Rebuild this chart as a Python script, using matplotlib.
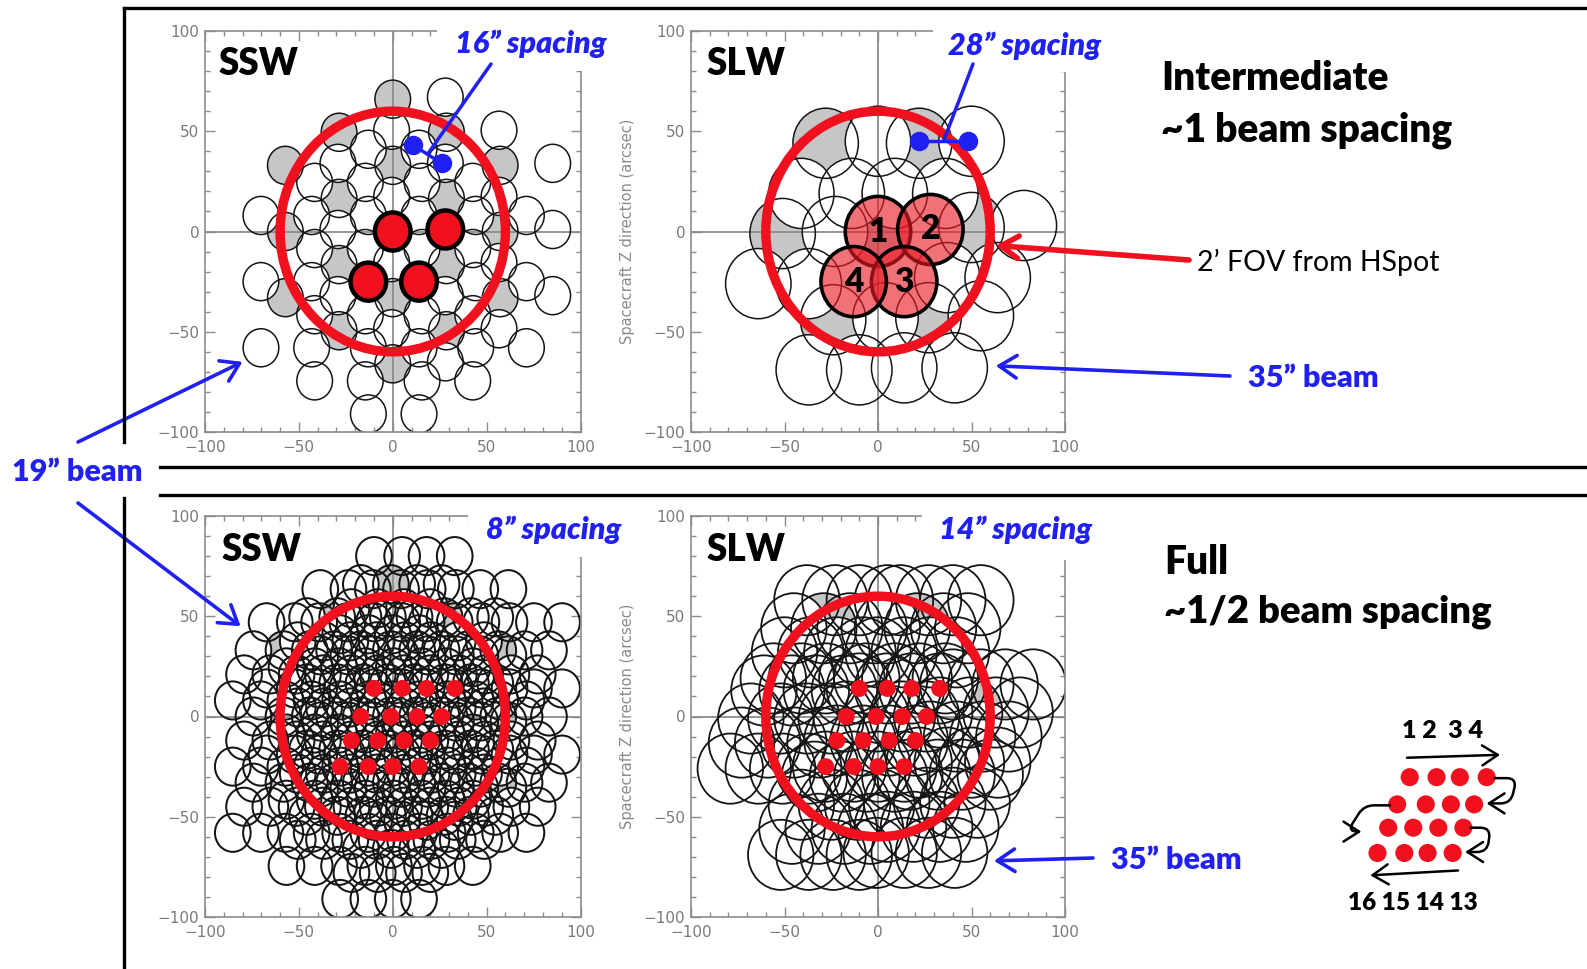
import matplotlib
matplotlib.use('Agg')
import matplotlib.pyplot as plt
from matplotlib.patches import Circle, Rectangle
from matplotlib.lines import Line2D
from matplotlib.ticker import MultipleLocator

W, H = 1587, 969

# detector centres on the sky (arcsec)
SSW_DET_X = [0, 0, 0, 0, 0, -28.6, -28.6, -28.6, -28.6, 28.6, 28.6, 28.6, 28.6,
             -57.2, -57.2, -57.2, 57.2, 57.2, 57.2]
SSW_DET_Y = [-66, -33, 0, 33, 66, -49.5, -16.5, 16.5, 49.5, -49.5, -16.5, 16.5, 49.5,
             -33, 0, 33, -33, 0, 33]
SLW_DET_X = [0, 50, -51, -28, 22, -24, 27]
SLW_DET_Y = [0, 2, -1, 44, 44, -44, -43]

# jiggle offsets: 4 points (intermediate) and 16 points (full, serpentine order)
INTER_DX = [0, 28, 14, -13]
INTER_DY = [0, 1, -25, -25]
INTER_LABELS = ['1', '2', '3', '4']
FULL_DX = [-10, 5, 18, 33, 26, 13, -1, -17, -22, -8, 6, 20, 14, 0, -13, -28]
FULL_DY = [14, 14, 14, 14, 0, 0, 0, 0, -12, -12, -12, -12, -25, -25, -25, -25]

SSW_BEAM = 19.0
SLW_BEAM = 35.0
FOV = 120.0

# pairs of positions marking the jiggle step
SSW_STEP_X = [11, 26]
SSW_STEP_Y = [43, 34]
SLW_STEP_X = [22, 48]
SLW_STEP_Y = [45, 45]

BLUE = '#2020f2'
RED = '#f0101e'
AXGREY = '#8c8c8c'
FONT = ['Lato', 'DejaVu Sans']

fig = plt.figure(figsize=(W / 100, H / 100), dpi=100)


def rect(x0, y0, x1, y1):
    return [x0 / W, 1 - y1 / H, (x1 - x0) / W, (y1 - y0) / H]


def fpix(x, y):
    return (x, H - y)


def panel(box, ylabel=False):
    ax = fig.add_axes(rect(*box))
    ax.set_xlim(-100, 100)
    ax.set_ylim(-100, 100)
    ax.set_xticks([-100, -50, 0, 50, 100])
    ax.set_yticks([-100, -50, 0, 50, 100])
    ax.xaxis.set_minor_locator(MultipleLocator(10))
    ax.yaxis.set_minor_locator(MultipleLocator(10))
    ax.tick_params(which='both', direction='in', top=True, right=True,
                   color=AXGREY, labelcolor='#7a7a7a', labelsize=11, width=1)
    ax.tick_params(which='major', length=7)
    ax.tick_params(which='minor', length=3.5)
    ax.tick_params(axis='x', pad=6)
    ax.tick_params(axis='y', pad=4)
    for s in ax.spines.values():
        s.set_color(AXGREY)
        s.set_linewidth(1.2)
    ax.axhline(0, color=AXGREY, lw=1.3, zorder=1.5)
    ax.axvline(0, color=AXGREY, lw=1.3, zorder=1.5)
    if ylabel:
        ax.set_ylabel('Spacecraft Z direction (arcsec)', color='#8a8a8a',
                      fontsize=10.5, labelpad=6)
    return ax


def beams(ax, det_x, det_y, dx, dy, diam, grey_idx, lw):
    r = diam / 2
    for j in range(len(dx)):
        face = '#c6c6c6' if j == grey_idx else 'white'
        for x0, y0 in zip(det_x, det_y):
            ax.add_patch(Circle((x0 + dx[j], y0 + dy[j]), r, fc=face, ec='none', zorder=1))
    for j in range(len(dx)):
        for x0, y0 in zip(det_x, det_y):
            ax.add_patch(Circle((x0 + dx[j], y0 + dy[j]), r, fill=False,
                                ec='#151515', lw=lw, zorder=2))
    ax.add_patch(Circle((0, 0), FOV / 2, fill=False, ec=RED, lw=6.8, zorder=5))


boxes = {
    'ssw_i': (205, 31, 580.5, 432),
    'slw_i': (691, 31, 1065, 432),
    'ssw_f': (205, 516, 580.5, 917),
    'slw_f': (691, 516, 1065, 917),
}
ax_ssw_i = panel(boxes['ssw_i'])
ax_slw_i = panel(boxes['slw_i'], ylabel=True)
ax_ssw_f = panel(boxes['ssw_f'])
ax_slw_f = panel(boxes['slw_f'], ylabel=True)

beams(ax_ssw_i, SSW_DET_X, SSW_DET_Y, INTER_DX, INTER_DY, SSW_BEAM, 0, 1.1)
beams(ax_slw_i, SLW_DET_X, SLW_DET_Y, INTER_DX, INTER_DY, SLW_BEAM, 0, 1.1)
beams(ax_ssw_f, SSW_DET_X, SSW_DET_Y, FULL_DX, FULL_DY, SSW_BEAM, 6, 1.45)
beams(ax_slw_f, SLW_DET_X, SLW_DET_Y, FULL_DX, FULL_DY, SLW_BEAM, 6, 1.3)

# jiggle positions of the central detector
for dx, dy in zip(INTER_DX, INTER_DY):
    ax_ssw_i.add_patch(Circle((dx, dy), SSW_BEAM / 2, fc=RED, ec='black', lw=3.2, zorder=6))
for dx, dy, lab in zip(INTER_DX, INTER_DY, INTER_LABELS):
    ax_slw_i.add_patch(Circle((dx, dy), SLW_BEAM / 2, fc=(0.91, 0.1, 0.15, 0.62),
                              ec='black', lw=2.6, zorder=6))
    ax_slw_i.text(dx, dy, lab, ha='center', va='center', fontsize=24,
                  fontweight='heavy', family=FONT, zorder=7)
for ax in (ax_ssw_f, ax_slw_f):
    ax.scatter(FULL_DX, FULL_DY, s=150, color=RED, edgecolors='none', zorder=6)

# jiggle step markers
for ax, sx, sy in ((ax_ssw_i, SSW_STEP_X, SSW_STEP_Y), (ax_slw_i, SLW_STEP_X, SLW_STEP_Y)):
    ax.plot(sx, sy, '-o', color=BLUE, lw=2.5, ms=13, zorder=8)

# hide the top-right frame corner where the spacing labels sit
for key, (cut_x, cut_y) in (('ssw_i', (437, 71)), ('slw_i', (933, 72)),
                            ('ssw_f', (468, 557)), ('slw_f', (922, 560))):
    x0, y0, x1, y1 = boxes[key]
    for rx0, ry0, rx1, ry1 in ((cut_x, y0 - 3, x1 + 3, y0 + 11), (x1 - 11, y0 - 3, x1 + 3, cut_y)):
        fig.add_artist(Rectangle((rx0 / W, 1 - ry1 / H), (rx1 - rx0) / W, (ry1 - ry0) / H,
                                 transform=fig.transFigure, fc='white', ec='none', zorder=3))

# frame lines
for xs, ys in (((123.5, W), (8, 8)), ((123.5, 123.5), (8, 442)), ((123.5, 123.5), (498, H)),
               ((160, W), (467.5, 467.5)), ((160, W), (495, 495))):
    fig.add_artist(Line2D([x / W for x in xs], [1 - y / H for y in ys],
                          transform=fig.transFigure, color='black', lw=2.4, zorder=3))


def ftext(x, y, s, size, color='black', weight='heavy', style='normal', ha='left'):
    fig.text(x / W, 1 - y / H, s, fontsize=size, color=color, fontweight=weight,
             style=style, family=FONT, ha=ha, va='center', zorder=5)


ftext(219, 64, 'SSW', 26.5)
ftext(707, 64, 'SLW', 26.5)
ftext(222, 550, 'SSW', 26.5)
ftext(707, 550, 'SLW', 26.5)

ftext(455, 44, '16\u201d spacing', 22, BLUE, style='italic')
ftext(948, 46, '28\u201d spacing', 22, BLUE, style='italic')
ftext(486, 530, '8\u201d spacing', 22, BLUE, style='italic')
ftext(939, 530, '14\u201d spacing', 22, BLUE, style='italic')

ftext(1161, 79, 'Intermediate', 28)
ftext(1161, 130, '~1 beam spacing', 28)
ftext(1164, 562, 'Full', 28)
ftext(1164, 612, '~1/2 beam spacing', 27.5)

ftext(1197, 262, '2\u2019 FOV from HSpot', 20.5, weight='normal')
ftext(1248, 378, '35\u201d beam', 22, BLUE)
ftext(1111, 860, '35\u201d beam', 22, BLUE)
ftext(12, 472, '19\u201d beam', 22, BLUE)

arrow = dict(arrowstyle='->,head_length=0.7,head_width=0.45', shrinkA=0, shrinkB=0,
             mutation_scale=18)

# pointers to the jiggle step markers
ax_ssw_i.annotate('', xy=(sum(SSW_STEP_X) / 2, sum(SSW_STEP_Y) / 2), xycoords='data',
                  xytext=fpix(491, 64), textcoords='figure pixels',
                  arrowprops=dict(arrowstyle='-', color=BLUE, lw=2.5, shrinkA=0, shrinkB=0),
                  zorder=9)
ax_slw_i.annotate('', xy=(sum(SLW_STEP_X) / 2, sum(SLW_STEP_Y) / 2), xycoords='data',
                  xytext=fpix(973, 64), textcoords='figure pixels',
                  arrowprops=dict(arrowstyle='-', color=BLUE, lw=2.5, shrinkA=0, shrinkB=0),
                  zorder=9)

ax_slw_i.annotate('', xy=(63, -7), xytext=fpix(1189, 260), textcoords='figure pixels',
                  arrowprops=dict(color=RED, lw=4, **arrow), annotation_clip=False)
ax_slw_i.annotate('', xy=(63, -67), xytext=fpix(1230, 376), textcoords='figure pixels',
                  arrowprops=dict(color=BLUE, lw=2.6, **arrow), annotation_clip=False)
ax_slw_f.annotate('', xy=(62, -72), xytext=fpix(1093, 858), textcoords='figure pixels',
                  arrowprops=dict(color=BLUE, lw=2.6, **arrow), annotation_clip=False)
ax_ssw_i.annotate('', xy=(-80, -65), xytext=fpix(78, 442), textcoords='figure pixels',
                  arrowprops=dict(color=BLUE, lw=2.6, **arrow), annotation_clip=False)
ax_ssw_f.annotate('', xy=(-81, 45), xytext=fpix(78, 503), textcoords='figure pixels',
                  arrowprops=dict(color=BLUE, lw=2.6, **arrow), annotation_clip=False)

# jiggle order sketch
axd = fig.add_axes(rect(1320.2, 707.2, 1535, 921))
axd.set_xlim(-60, 60)
axd.set_ylim(-60, 50)
axd.axis('off')
axd.scatter(FULL_DX, FULL_DY, s=170, color=RED, edgecolors='none', zorder=3)
sk = dict(arrowstyle='->,head_length=0.7,head_width=0.45', color='black', lw=1.8,
          shrinkA=0, shrinkB=0, mutation_scale=16)
axd.annotate('', xy=(40.5, 25.5), xytext=(-11.5, 24), arrowprops=sk)
axd.annotate('', xy=(-32, -36.5), xytext=(17, -34), arrowprops=sk)
axd.annotate('', xy=(33, 0.5), xytext=(37.5, 13.5),
             arrowprops=dict(connectionstyle='arc,angleA=0,angleB=0,armA=22,armB=24,rad=10', **sk))
axd.annotate('', xy=(-37, -14), xytext=(-21, -0.5),
             arrowprops=dict(connectionstyle='arc,angleA=180,angleB=180,armA=26,armB=14,rad=10', **sk))
axd.annotate('', xy=(21, -24.5), xytext=(24, -12),
             arrowprops=dict(connectionstyle='arc,angleA=0,angleB=0,armA=20,armB=22,rad=10', **sk))
axd.text(8.5, 37.5, '1 2  3 4', ha='center', va='center', fontsize=18,
         fontweight='heavy', family=FONT)
axd.text(-8, -50.5, '16 15 14 13', ha='center', va='center', fontsize=17.5,
         fontweight='heavy', family=FONT)

fig.savefig('out.png', dpi=100)
